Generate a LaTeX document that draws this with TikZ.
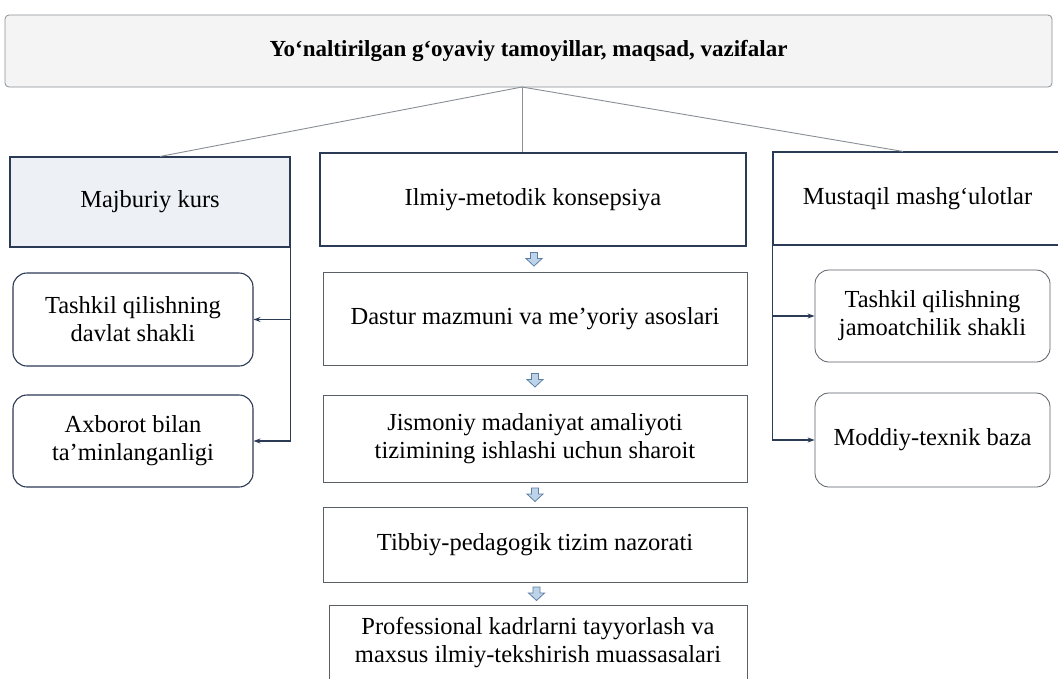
\documentclass[tikz,border=0pt]{standalone}
\usepackage{fontspec}
\setmainfont{Liberation Serif}
\usetikzlibrary{arrows.meta,calc}
\definecolor{navy}{HTML}{2B3A55}
\definecolor{greyline}{HTML}{8A8F96}
\definecolor{boxgrey}{HTML}{5A5F66}
\definecolor{titlefill}{HTML}{F4F4F4}
\definecolor{bluefill}{HTML}{EDF1F6}
\definecolor{arrfill}{HTML}{BCD3EA}
\definecolor{arrline}{HTML}{5D7FA3}
\tikzset{
  txt/.style={font=\fontsize{24.5}{28}\selectfont},
  box/.style={draw=navy, line width=1.1pt, inner sep=0pt, align=center, txt},
  cbox/.style={draw=boxgrey, line width=0.9pt, inner sep=0pt, align=center, txt},
  rbox/.style={draw=navy, line width=1.1pt, rounded corners=14pt, inner sep=0pt, align=center, txt},
  rboxl/.style={draw=boxgrey, line width=0.8pt, rounded corners=14pt, inner sep=0pt, align=center, txt},
  conn/.style={draw=greyline, line width=0.9pt},
  side/.style={draw=navy, line width=1.2pt},
  sidearr/.style={side, -{Stealth[length=7pt,width=5pt]}},
  barrow/.style={draw=arrline, fill=arrfill, line width=0.8pt, line join=miter}
}
\newcommand\blkarr[1]{\path[barrow] (#1) ++(-3.5,-6.5) -- ++(7,0) -- ++(0,6) -- ++(4.5,0) -- ++(-8,7.5) -- ++(-8,-7.5) -- ++(4.5,0) -- cycle;}
\begin{document}
\begin{tikzpicture}[x=1pt,y=-1pt]
\useasboundingbox (0,0) rectangle (1058,678);
\clip (0,0) rectangle (1058,678);
\fill[white] (0,0) rectangle (1058,678);

% title
\node[draw=greyline, fill=titlefill, line width=0.8pt, rounded corners=4pt, minimum width=1047pt, minimum height=72pt, inner sep=0pt,
  font=\bfseries\fontsize{23}{27}\selectfont] (top) at (528.5,51) {Yo‘naltirilgan g‘oyaviy tamoyillar, maqsad, vazifalar};
\coordinate (j) at (522,87);

% level 2
\node[box, fill=bluefill, minimum width=280pt, minimum height=90pt] (mb) at (150,202) {Majburiy kurs};
\node[box, fill=white, minimum width=426pt, minimum height=93pt] (ilm) at (533,199.5) {Ilmiy-metodik konsepsiya};
\node[box, fill=white, minimum width=289pt, minimum height=93pt] (ms) at (917.5,198.5) {Mustaqil mashg‘ulotlar};

\draw[conn] (j) -- (mb.north -| 160,0);
\draw[conn] (j) -- (ilm.north -| 522,0);
\draw[conn] (j) -- (ms.north -| 903,0);

% left column
\node[rbox, minimum width=240pt, minimum height=93pt] (l1) at (133,319.5) {Tashkil qilishning\\davlat shakli};
\node[rbox, minimum width=240pt, minimum height=92pt] (l2) at (133,441) {Axborot bilan\\ta’minlanganligi};
\draw[side] (mb.south east) -- (mb.south east |- l2.east);
\draw[sidearr] (mb.south east |- l1.east) -- (l1.east);
\draw[sidearr] (mb.south east |- l2.east) -- (l2.east);

% right column
\node[rboxl, minimum width=235pt, minimum height=92pt] (r1) at (932.5,316) {Tashkil qilishning\\jamoatchilik shakli};
\node[rboxl, minimum width=235pt, minimum height=94pt] (r2) at (932.5,440) {Moddiy-texnik baza};
\draw[side] (ms.south west) -- (ms.south west |- r2.west);
\draw[sidearr] (ms.south west |- r1.west) -- (r1.west);
\draw[sidearr] (ms.south west |- r2.west) -- (r2.west);

% central column
\node[cbox, minimum width=424pt, minimum height=93pt] (das) at (535,318.5) {Dastur mazmuni va me’yoriy asoslari};
\node[cbox, minimum width=424pt, minimum height=87pt] (jis) at (535,438.5) {Jismoniy madaniyat amaliyoti\\tizimining ishlashi uchun sharoit};
\node[cbox, minimum width=424pt, minimum height=75pt] (tib) at (535,544.5) {Tibbiy-pedagogik tizim nazorati};
\node[cbox, minimum width=418pt, minimum height=76pt] (pro) at (538,643) {Professional kadrlarni tayyorlash va\\maxsus ilmiy-tekshirish muassasalari};

\blkarr{$(ilm.south)!0.5!(das.north)$}
\blkarr{$(das.south)!0.5!(jis.north)$}
\blkarr{$(jis.south)!0.5!(tib.north)$}
\blkarr{$(tib.south)!0.5!(pro.north)$}
\end{tikzpicture}
\end{document}
